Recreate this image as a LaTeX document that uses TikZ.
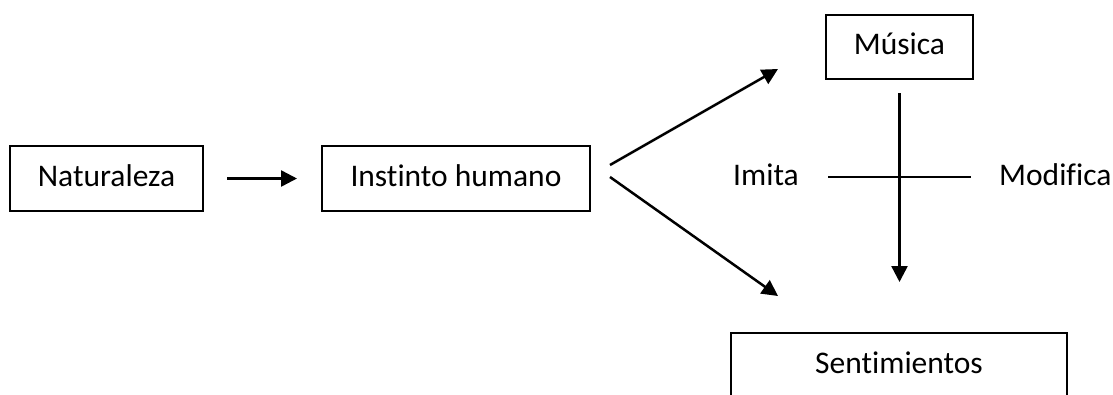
\documentclass[tikz,border=0pt]{standalone}
\usepackage{fontspec}
\setmainfont[Ligatures=NoCommon]{Carlito}
\usetikzlibrary{arrows.meta}
\begin{document}
\begin{tikzpicture}[x=1pt,y=-1pt,
  font=\fontsize{31.5}{36}\selectfont,
  every node/.style={text height=22pt,text depth=6.3pt,inner sep=0pt},
  box/.style={draw,line width=2pt,minimum height=65pt},
  word/.style={},
  link/.style={line width=2.5pt},
  arrow/.style={link,-{Triangle[length=16pt,width=16pt]}}]
\useasboundingbox (0,0) rectangle (1113,394);
\clip (0,0) rectangle (1113,394);
% boxes
\node[box,minimum width=193pt] (nat) at (106.5,178.5) {Naturaleza};
\node[box,minimum width=268pt] (ins) at (456,178.5) {Instinto humano};
\node[box,minimum width=147pt,minimum height=64pt] (mus) at (899.5,47) {Música};
\node[box,minimum width=336pt] (sen) at (899,365.5) {Sentimientos};
% side labels
\node[word] (imi) at (766,178) {Imita};
\node[word,anchor=west] (mod) at (999,178) {Modifica};
% branch points
\coordinate (b1) at (610,165);
\coordinate (b2) at (610,177);
\coordinate (t1) at (778,69);
\coordinate (t2) at (778,296);
% connectors
\draw[arrow,shorten <=23pt,shorten >=24pt] (nat.east) -- (ins.west);
\draw[arrow] (b1) -- (t1);
\draw[arrow] (b2) -- (t2);
\draw[link,shorten <=29pt,shorten >=28pt] (imi.east |- 0,177) -- (mod.west |- 0,177);
\draw[arrow,shorten <=13pt,shorten >=50pt] (mus.south) -- (mus.south |- sen.north);
\end{tikzpicture}
\end{document}
